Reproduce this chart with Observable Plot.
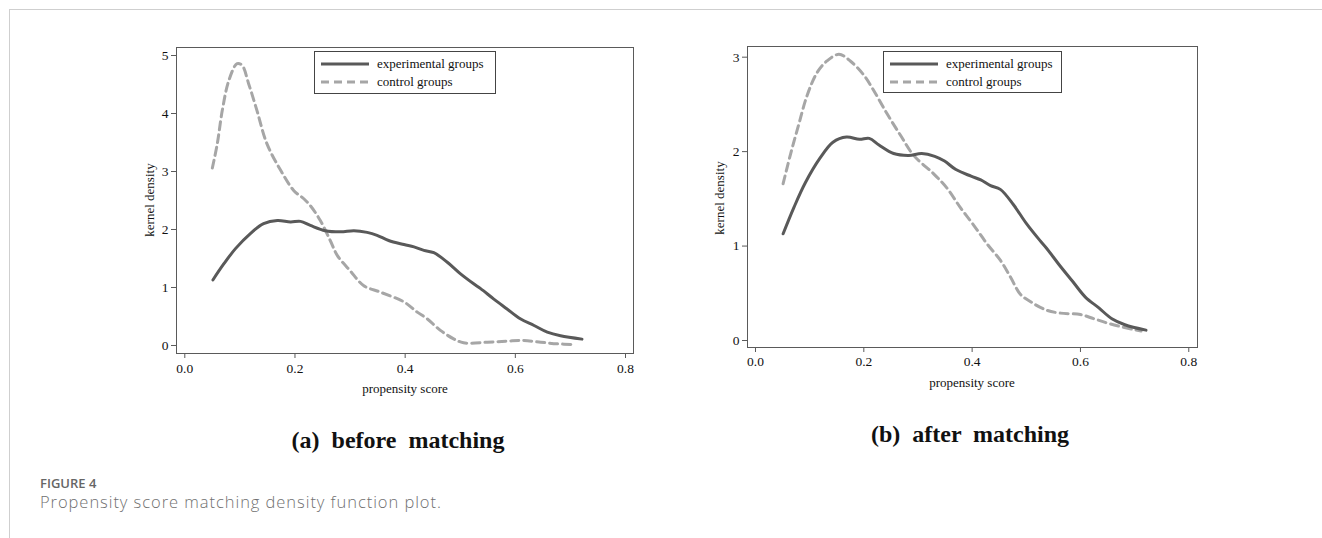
<!DOCTYPE html>
<html>
<head>
<meta charset="utf-8">
<script src="https://cdn.jsdelivr.net/npm/d3@7"></script>
<script src="https://cdn.jsdelivr.net/npm/@observablehq/plot@0.6"></script>
<style>
  html, body { margin: 0; padding: 0; background: #fff; }
  #root { position: relative; width: 1322px; height: 538px; overflow: hidden; background: #fff; }
  #border { position: absolute; left: 9px; top: 9px; right: -2px; bottom: -2px; border-top: 1px solid #cfcfcf; border-left: 1px solid #cfcfcf; }
  .panel { position: absolute; top: 0; }
  #overlay { position: absolute; left: 0; top: 0; }
</style>
</head>
<body>
<div id="root">
  <div id="border"></div>
  <div id="left" class="panel" style="left:0px"></div>
  <div id="right" class="panel" style="left:680px"></div>
  <svg id="overlay" width="1322" height="538"></svg>
</div>
<script>
// ---- data ----
const xTicks = [0, 0.2, 0.4, 0.6, 0.8];
const yTicksBefore = [0, 1, 2, 3, 4, 5];
const yTicksAfter = [0, 1, 2, 3];
const seriesNames = ["experimental groups", "control groups"];
const panelTitles = ["(a)  before  matching", "(b)  after  matching"];
const xTitle = "propensity score";
const yTitle = "kernel density";

// experimental groups (same in both panels)
const expX = [0.051,0.071,0.092,0.119,0.143,0.168,0.192,0.21,0.228,0.255,0.283,0.307,0.331,0.349,0.37,0.398,0.416,0.434,0.452,0.476,0.50,0.525,0.537,0.561,0.585,0.609,0.634,0.658,0.682,0.721];
const expY = [1.13,1.41,1.67,1.93,2.10,2.155,2.13,2.14,2.07,1.98,1.96,1.98,1.95,1.90,1.81,1.74,1.70,1.64,1.60,1.44,1.24,1.06,0.98,0.80,0.63,0.46,0.345,0.23,0.167,0.11];

// control groups before matching
const ctrlBeforeX = [0.050,0.059,0.068,0.080,0.095,0.104,0.116,0.131,0.149,0.174,0.198,0.216,0.228,0.246,0.264,0.277,0.300,0.325,0.355,0.398,0.422,0.440,0.464,0.488,0.506,0.549,0.585,0.615,0.646,0.676,0.706];
const ctrlBeforeY = [3.06,3.48,4.05,4.57,4.86,4.83,4.51,4.05,3.48,3.02,2.67,2.53,2.41,2.155,1.81,1.55,1.29,1.03,0.92,0.75,0.575,0.46,0.26,0.115,0.046,0.057,0.075,0.086,0.057,0.029,0.017];

// control groups after matching
const ctrlAfterX = [0.051,0.065,0.080,0.095,0.114,0.132,0.154,0.175,0.200,0.218,0.243,0.268,0.292,0.329,0.354,0.378,0.403,0.428,0.452,0.471,0.489,0.508,0.538,0.563,0.600,0.625,0.655,0.698,0.712];
const ctrlAfterY = [1.66,1.98,2.29,2.59,2.84,2.96,3.03,2.96,2.81,2.65,2.40,2.17,1.96,1.765,1.61,1.41,1.22,1.02,0.85,0.67,0.49,0.41,0.32,0.29,0.275,0.23,0.176,0.116,0.10];

const caption = ["FIGURE 4", "Propensity score matching density function plot."];

// ---- build ----
const exp = expX.map((x, i) => ({x, y: expY[i]}));
const ctrlBefore = ctrlBeforeX.map((x, i) => ({x, y: ctrlBeforeY[i]}));
const ctrlAfter = ctrlAfterX.map((x, i) => ({x, y: ctrlAfterY[i]}));

const FONT = "'Liberation Serif', 'Times New Roman', serif";
const FRAME = "#5a5a5a";
const EXPC = "#595959";
const CTRLC = "#a6a6a6";

function panel(opts) {
  return Plot.plot({
    width: opts.width, height: opts.height,
    marginLeft: opts.ml, marginRight: opts.mr, marginTop: opts.mt, marginBottom: opts.mb,
    x: {domain: opts.xDomain},
    y: {domain: opts.yDomain},
    style: {fontFamily: FONT, fontSize: "14px", color: "#111", background: "transparent", overflow: "visible"},
    marks: [
      Plot.axisX({ticks: xTicks, tickFormat: d3.format(".1f"), tickSize: 5, tickPadding: opts.xPad, stroke: FRAME, strokeOpacity: 1, label: null, fontSize: 13.5}),
      Plot.axisY({ticks: opts.yTicks, tickFormat: d3.format("d"), tickSize: 5, tickPadding: 3, stroke: FRAME, strokeOpacity: 1, label: null, fontSize: 13.5}),
      Plot.line(opts.ctrl, {x: "x", y: "y", stroke: CTRLC, strokeWidth: 3, strokeDasharray: "8,5", curve: "catmull-rom"}),
      Plot.line(exp, {x: "x", y: "y", stroke: EXPC, strokeWidth: 3, curve: "catmull-rom"}),
      Plot.frame({stroke: FRAME, strokeWidth: 1})
    ]
  });
}

document.getElementById("left").appendChild(panel({
  width: 660, height: 400, ml: 176, mr: 27, mt: 47, mb: 47,
  xDomain: [-0.01507, 0.8145], yDomain: [-0.138, 5.138],
  yTicks: yTicksBefore, ctrl: ctrlBefore, xPad: 5
}));
document.getElementById("right").appendChild(panel({
  width: 540, height: 400, ml: 67, mr: 23, mt: 46, mb: 53,
  xDomain: [-0.01477, 0.8161], yDomain: [-0.074, 3.113],
  yTicks: yTicksAfter, ctrl: ctrlAfter, xPad: 4
}));

// ---- overlay texts & legends ----
const ov = d3.select("#overlay");
function legend(x0, y0, w, h) {
  const g = ov.append("g");
  g.append("rect").attr("x", x0 + 0.5).attr("y", y0 + 0.5).attr("width", w).attr("height", h)
    .attr("fill", "#fff").attr("stroke", "#444").attr("stroke-width", 1);
  const rows = [{y: y0 + 13, stroke: EXPC, dash: null}, {y: y0 + 31, stroke: CTRLC, dash: "8,5"}];
  rows.forEach((r, i) => {
    g.append("line").attr("x1", x0 + 7).attr("x2", x0 + 55).attr("y1", r.y).attr("y2", r.y)
      .attr("stroke", r.stroke).attr("stroke-width", 3).attr("stroke-dasharray", r.dash);
    g.append("text").attr("x", x0 + 63).attr("y", r.y).attr("dy", "0.33em")
      .attr("font-family", FONT).attr("font-size", 13).attr("fill", "#111").text(seriesNames[i]);
  });
}
legend(314, 51, 181, 42);
legend(883, 51, 178, 41);

function txt(x, y, s, o = {}) {
  const t = ov.append("text").attr("x", x).attr("y", y).text(s)
    .attr("font-family", o.family || FONT).attr("font-size", o.size || 13)
    .attr("fill", o.fill || "#111").attr("text-anchor", o.anchor || "middle")
    .style("white-space", "pre").attr("xml:space", "preserve");
  if (o.weight) t.attr("font-weight", o.weight);
  if (o.spacing) t.attr("letter-spacing", o.spacing);
  if (o.rotate) t.attr("transform", `rotate(${o.rotate},${x},${y})`);
  return t;
}
txt(405, 393, xTitle, {size: 13});
txt(972, 387, xTitle, {size: 13});
txt(154, 200, yTitle, {size: 13, rotate: -90});
txt(724, 198, yTitle, {size: 13, rotate: -90});
txt(398, 448, panelTitles[0], {size: 24, weight: "bold"});
txt(970, 442, panelTitles[1], {size: 24, weight: "bold"});
txt(40, 488, caption[0], {family: "'Open Sans', sans-serif", size: 13, weight: 600, fill: "#666", anchor: "start"});
txt(40, 508, caption[1], {family: "'Open Sans', sans-serif", size: 16.5, weight: 300, fill: "#707070", anchor: "start", spacing: 0.95});
</script>
</body>
</html>
